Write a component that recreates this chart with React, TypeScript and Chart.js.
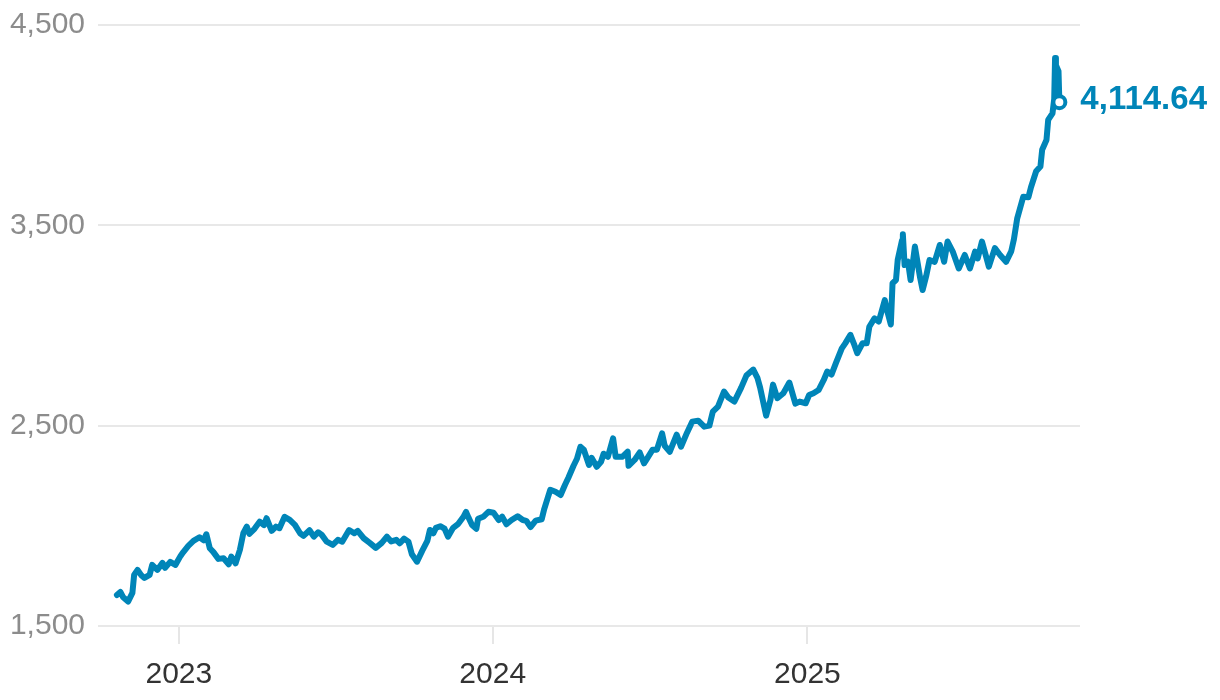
import React, { useEffect, useRef } from "react";
import { Chart, registerables } from "chart.js";

Chart.register(...registerables);

const dates: string[] = [
  "2022-10-21","2022-10-25","2022-10-28","2022-11-03","2022-11-08","2022-11-10","2022-11-14","2022-11-18","2022-11-22","2022-11-28",
  "2022-12-01","2022-12-07","2022-12-13","2022-12-16","2022-12-22","2022-12-28",
  "2023-01-03","2023-01-06","2023-01-12","2023-01-18","2023-01-25","2023-01-30","2023-02-02","2023-02-06","2023-02-10","2023-02-16",
  "2023-02-22","2023-02-28","2023-03-03","2023-03-08","2023-03-13","2023-03-17","2023-03-21","2023-03-24","2023-03-30","2023-04-05",
  "2023-04-10","2023-04-13","2023-04-19","2023-04-24","2023-04-28","2023-05-04","2023-05-10","2023-05-16","2023-05-22","2023-05-26",
  "2023-06-02","2023-06-07","2023-06-12","2023-06-16","2023-06-22","2023-06-29","2023-07-05","2023-07-10","2023-07-18","2023-07-24",
  "2023-07-28","2023-08-04","2023-08-11","2023-08-18","2023-08-25","2023-08-31","2023-09-05","2023-09-11","2023-09-15","2023-09-20",
  "2023-09-25","2023-09-29","2023-10-05","2023-10-11","2023-10-17","2023-10-20","2023-10-24","2023-10-27","2023-11-01","2023-11-06",
  "2023-11-10","2023-11-16","2023-11-22","2023-11-28","2023-12-01","2023-12-04","2023-12-08","2023-12-13","2023-12-15","2023-12-21",
  "2023-12-27",
  "2024-01-02","2024-01-08","2024-01-12","2024-01-17","2024-01-23","2024-01-30","2024-02-05","2024-02-09","2024-02-14","2024-02-20",
  "2024-02-27","2024-03-01","2024-03-05","2024-03-08","2024-03-14","2024-03-20","2024-03-25","2024-03-29","2024-04-04","2024-04-08",
  "2024-04-12","2024-04-16","2024-04-22","2024-04-25","2024-05-01","2024-05-06","2024-05-09","2024-05-14","2024-05-20","2024-05-23",
  "2024-05-31","2024-06-06","2024-06-07","2024-06-14","2024-06-20","2024-06-25","2024-06-28","2024-07-05","2024-07-10","2024-07-16",
  "2024-07-19","2024-07-25","2024-08-02","2024-08-07","2024-08-14","2024-08-20","2024-08-27","2024-09-03","2024-09-09","2024-09-13",
  "2024-09-19","2024-09-26","2024-10-01","2024-10-08","2024-10-16","2024-10-22","2024-10-30","2024-11-04","2024-11-07","2024-11-14",
  "2024-11-19","2024-11-22","2024-11-27","2024-12-04","2024-12-11","2024-12-18","2024-12-23","2024-12-30",
  "2025-01-03","2025-01-08","2025-01-14","2025-01-20","2025-01-24","2025-01-29","2025-02-03","2025-02-10","2025-02-14","2025-02-20",
  "2025-02-24","2025-02-28","2025-03-06","2025-03-11","2025-03-14","2025-03-20","2025-03-25","2025-04-01","2025-04-04","2025-04-08",
  "2025-04-10","2025-04-14","2025-04-16","2025-04-21","2025-04-22","2025-04-24","2025-04-28","2025-05-01","2025-05-06","2025-05-12",
  "2025-05-15","2025-05-19","2025-05-23","2025-05-29","2025-06-04","2025-06-09","2025-06-13","2025-06-19","2025-06-26","2025-07-03",
  "2025-07-09","2025-07-15","2025-07-18","2025-07-23","2025-07-31","2025-08-07","2025-08-13","2025-08-20","2025-08-26","2025-08-29",
  "2025-09-02","2025-09-09","2025-09-15","2025-09-18","2025-09-24","2025-09-29","2025-10-01","2025-10-06","2025-10-08","2025-10-13",
  "2025-10-15","2025-10-16","2025-10-17","2025-10-20","2025-10-21",
];

const prices: number[] = [
  1655,1670,1645,1622,1665,1755,1780,1755,1740,1755,
  1805,1780,1815,1790,1820,1805,
  1850,1868,1900,1925,1943,1928,1958,1888,1870,1835,
  1838,1808,1846,1813,1880,1963,1996,1960,1985,2021,
  2004,2038,1975,1996,1988,2045,2030,2005,1963,1950,
  1978,1946,1968,1956,1921,1905,1930,1921,1979,1963,
  1975,1938,1915,1890,1915,1946,1922,1930,1913,1936,
  1921,1858,1821,1875,1925,1979,1963,1990,1998,1986,
  1946,1990,2010,2045,2070,2040,2004,1985,2035,2045,
  2070,
  2065,2029,2046,2008,2029,2048,2029,2025,1994,2026,
  2033,2085,2140,2180,2170,2154,2204,2240,2300,2335,
  2395,2380,2304,2340,2295,2320,2360,2345,2437,2345,
  2345,2370,2300,2329,2366,2312,2332,2380,2380,2462,
  2400,2370,2455,2395,2465,2520,2525,2495,2500,2570,
  2595,2670,2640,2620,2690,2750,2780,2737,2690,2550,
  2628,2705,2637,2662,2715,2610,2620,2612,
  2653,2662,2678,2728,2770,2755,2811,2886,2911,2953,
  2910,2862,2911,2911,2994,3036,3020,3127,3070,3005,
  3211,3227,3327,3425,3455,3302,3318,3227,3394,3240,
  3177,3244,3327,3318,3402,3318,3419,3369,3285,3352,
  3285,3369,3335,3419,3294,3386,3352,3318,3370,3427,
  3535,3643,3640,3690,3770,3794,3877,3926,4026,4059,
  4130,4335,4300,4270,4114.64,
];

const yTicks: number[] = [1500, 2500, 3500, 4500];
const xTickDates: string[] = ["2023-01-01", "2024-01-01", "2025-01-01"];
const xTickLabels: string[] = ["2023", "2024", "2025"];
const xRange: string[] = ["2022-09-29", "2025-11-14"];
const lastLabel = "4,114.64";

const BLUE = "#0085b8";

function dayNum(s: string): number {
  const [y, m, d] = s.split("-").map(Number);
  return Date.UTC(y, m - 1, d) / 86400000;
}

const endLabelPlugin = {
  id: "endLabel",
  afterDatasetsDraw(chart: any) {
    const meta = chart.getDatasetMeta(0);
    const pt = meta.data[meta.data.length - 1];
    if (!pt) return;
    const ctx = chart.ctx;
    ctx.save();
    ctx.beginPath();
    ctx.arc(pt.x, pt.y, 6, 0, Math.PI * 2);
    ctx.fillStyle = "#ffffff";
    ctx.fill();
    ctx.lineWidth = 4;
    ctx.strokeStyle = BLUE;
    ctx.stroke();
    ctx.fillStyle = BLUE;
    ctx.font = "bold 33px 'Liberation Sans', Arial, sans-serif";
    ctx.textAlign = "left";
    ctx.textBaseline = "middle";
    ctx.fillText(lastLabel, pt.x + 21, pt.y - 2);
    ctx.restore();
  },
};

export default function App() {
  const canvasRef = useRef<HTMLCanvasElement | null>(null);

  useEffect(() => {
    if (!canvasRef.current) return;
    const points = dates.map((d, i) => ({ x: dayNum(d), y: prices[i] }));
    const xTickVals = xTickDates.map(dayNum);
    const chart = new Chart(canvasRef.current, {
      type: "line",
      data: {
        datasets: [
          {
            data: points,
            borderColor: BLUE,
            borderWidth: 6,
            borderJoinStyle: "round",
            borderCapStyle: "round",
            pointRadius: 0,
            tension: 0,
            fill: false,
          },
        ],
      },
      options: {
        animation: false,
        responsive: true,
        maintainAspectRatio: false,
        layout: { padding: { right: 132, top: 0, bottom: 0, left: 0 } },
        plugins: { legend: { display: false }, tooltip: { enabled: false } },
        scales: {
          x: {
            type: "linear",
            min: dayNum(xRange[0]),
            max: dayNum(xRange[1]),
            afterBuildTicks: (scale: any) => {
              scale.ticks = xTickVals.map((v) => ({ value: v }));
            },
            afterFit: (scale: any) => {
              scale.height = 66;
              scale.paddingLeft = 0;
              scale.paddingRight = 0;
            },
            ticks: {
              autoSkip: false,
              maxRotation: 0,
              padding: 13,
              color: "#333333",
              font: { size: 30, family: "'Liberation Sans', Arial, sans-serif" },
              callback: (v: any) => {
                const i = xTickVals.indexOf(Number(v));
                return i >= 0 ? xTickLabels[i] : "";
              },
            },
            grid: {
              drawOnChartArea: false,
              drawTicks: true,
              tickLength: 18,
              color: "#e6e6e6",
              lineWidth: 2,
            },
            border: { display: false },
          },
          y: {
            min: 1500,
            max: 4500,
            afterBuildTicks: (scale: any) => {
              scale.ticks = yTicks.map((v) => ({ value: v }));
            },
            afterFit: (scale: any) => {
              scale.width = 90;
              scale.paddingTop = 17;
              scale.paddingBottom = 0;
            },
            ticks: {
              padding: 13,
              color: "#8c8c8c",
              font: { size: 30, family: "'Liberation Sans', Arial, sans-serif" },
              callback: (v: any) => Number(v).toLocaleString("en-US"),
            },
            grid: {
              drawTicks: false,
              color: "#e8e8e8",
              lineWidth: 2,
            },
            border: { display: false },
          },
        },
      },
      plugins: [endLabelPlugin],
    } as any);
    return () => chart.destroy();
  }, []);

  return (
    <div style={{ position: "relative", width: "1204px", height: "684px" }}>
      <canvas ref={canvasRef} />
    </div>
  );
}
